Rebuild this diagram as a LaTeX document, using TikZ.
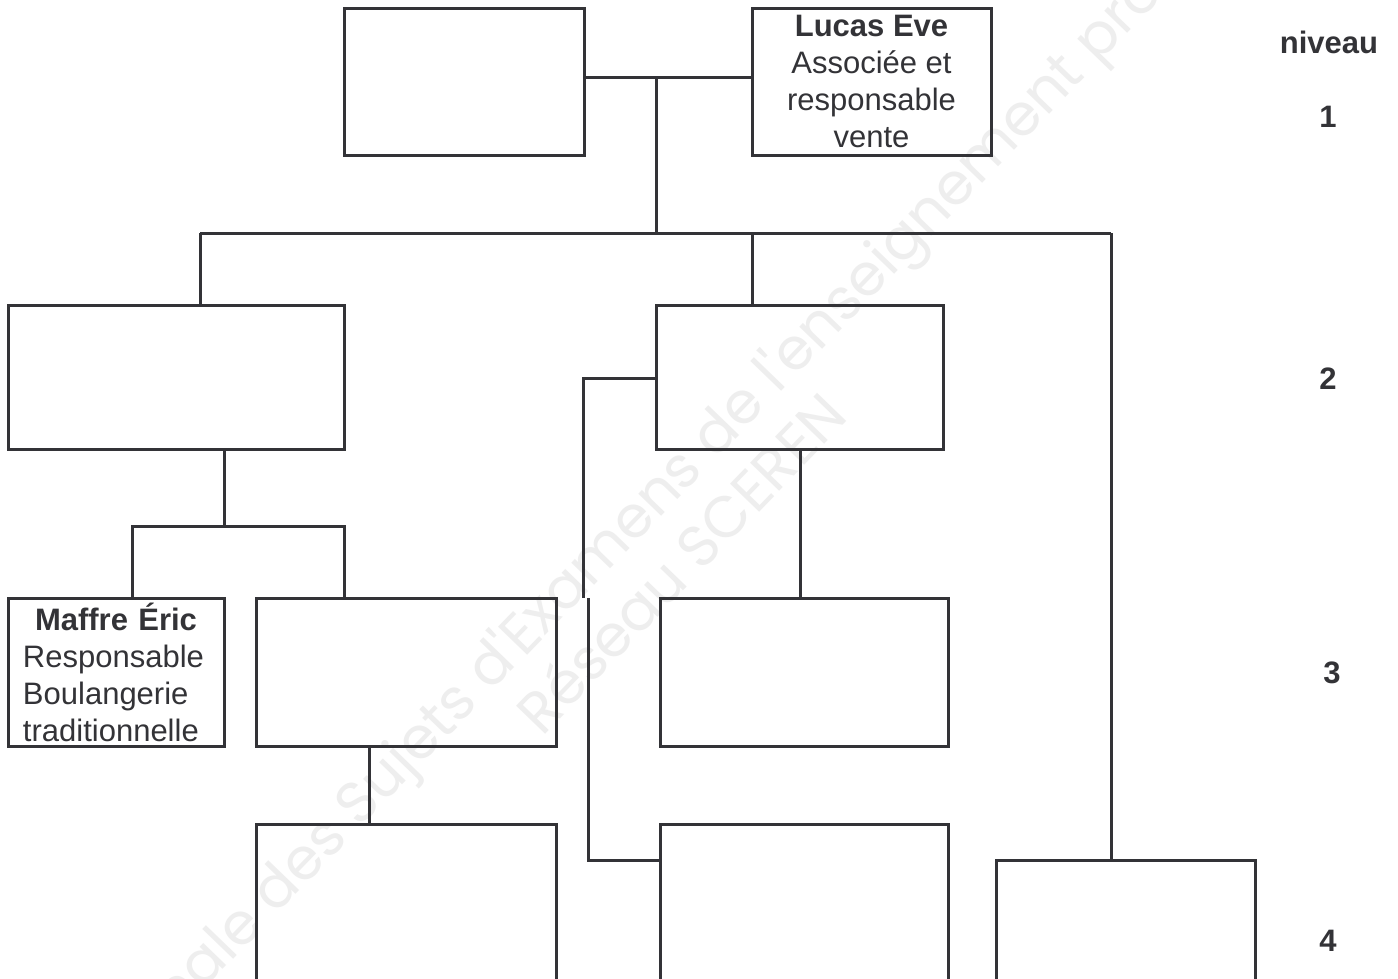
\documentclass[tikz,border=0pt]{standalone}
\usepackage{fontspec}
\setmainfont{Liberation Sans}
\newfontfamily\wmfont{Poppins}
\usepackage{tikz}
\usetikzlibrary{calc}

\definecolor{inkgray}{HTML}{333337}
\definecolor{wmgray}{HTML}{EEEEEE}

\tikzset{
  orgline/.style={draw=inkgray, line width=3pt},
  orgbox/.style={draw=inkgray, line width=3pt, rectangle, inner sep=0pt,
    text=inkgray, font=\fontsize{31}{37}\selectfont},
  levelnum/.style={text=inkgray, font=\fontsize{31}{37}\selectfont\bfseries, inner sep=0pt},
  watermark/.style={text=wmgray, font=\wmfont\fontsize{58}{64}\selectfont, rotate=46}
}

\begin{document}
\begin{tikzpicture}[x=1pt, y=-1pt]
    \clip (0,0) rectangle (1398,978);
    \fill[white] (0,0) rectangle (1398,978);
    % watermark behind the chart
    \node[watermark] (wm1) at (735,418) {Annale des Sujets d'Examens de l'enseignement professionnel};
    \node[watermark] (wm2) at (680,562) {Réseau SCEREN};
    % level 1
    \node[orgbox, minimum width=240pt, minimum height=147pt] (A) at (464,81.5) {};
    \node[orgbox, minimum width=239pt, minimum height=147pt, align=center] (lucas) at (871.5,81.5)
        {\textbf{Lucas Eve}\\Associée et\\responsable\\vente};
    % level 2
    \node[orgbox, minimum width=336pt, minimum height=144pt] (B) at (176,377) {};
    \node[orgbox, minimum width=287pt, minimum height=144pt] (C) at (799.5,377) {};
    % level 3
    \node[orgbox, minimum width=216pt, minimum height=148pt, text width=186pt, align=left] (maffre) at (116,672)
        {{\centering\bfseries Maffre Éric\par}Responsable\\Boulangerie\\traditionnelle};
    \node[orgbox, minimum width=300pt, minimum height=148pt] (E) at (406,672) {};
    \node[orgbox, minimum width=288pt, minimum height=148pt] (D) at (804,672) {};
    % level 4 (cut by the page edge)
    \node[orgbox, minimum width=300pt, minimum height=176pt] (F) at (406,912) {};
    \node[orgbox, minimum width=288pt, minimum height=176pt] (H) at (804,912) {};
    \node[orgbox, minimum width=259pt, minimum height=140pt] (G) at (1125.5,930) {};
    % junctions
    \coordinate (bus1) at (656,77);
    \coordinate (bus2) at (656,233);
    \coordinate (jB) at (200,233);
    \coordinate (jC) at (752,233);
    \coordinate (jG) at (1111,233);
    \coordinate (jBdown) at (224,526);
    \coordinate (jM) at (132,526);
    \coordinate (jE) at (344,526);
    \coordinate (jF) at (369,785);
    \coordinate (jD) at (800,520);
    \coordinate (k1) at (583,378);
    \coordinate (k2) at (583,598);
    \coordinate (k3) at (588,598);
    \coordinate (k4) at (588,860);
    % connectors
    \draw[orgline] (A.east |- bus1) -- (lucas.west |- bus1);
    \draw[orgline] (bus1) -- (bus2);
    \draw[orgline] (jB) -- (jG);
    \draw[orgline] (jB) -- (jB |- B.north);
    \draw[orgline] (jC) -- (jC |- C.north);
    \draw[orgline] (jG) -- (jG |- G.north);
    \draw[orgline] (jBdown |- B.south) -- (jBdown);
    \draw[orgline] (jM |- maffre.north) -- (jM) -- (jE) -- (jE |- E.north);
    \draw[orgline] (jF |- E.south) -- (jF |- F.north);
    \draw[orgline] (jD |- C.south) -- (jD |- D.north);
    \draw[orgline] (C.west |- k1) -- (k1) -- (k2);
    \draw[orgline] (k3) -- (k4) -- (k4 -| H.west);
    % levels
    \node[levelnum, anchor=base] (niveau) at (1329,53) {niveau};
    \foreach \n/\x/\y in {1/1328/127, 2/1328/389, 3/1332/683, 4/1328/951}
        \node[levelnum, anchor=base] (lvl\n) at (\x,\y) {\n};
\end{tikzpicture}
\end{document}
